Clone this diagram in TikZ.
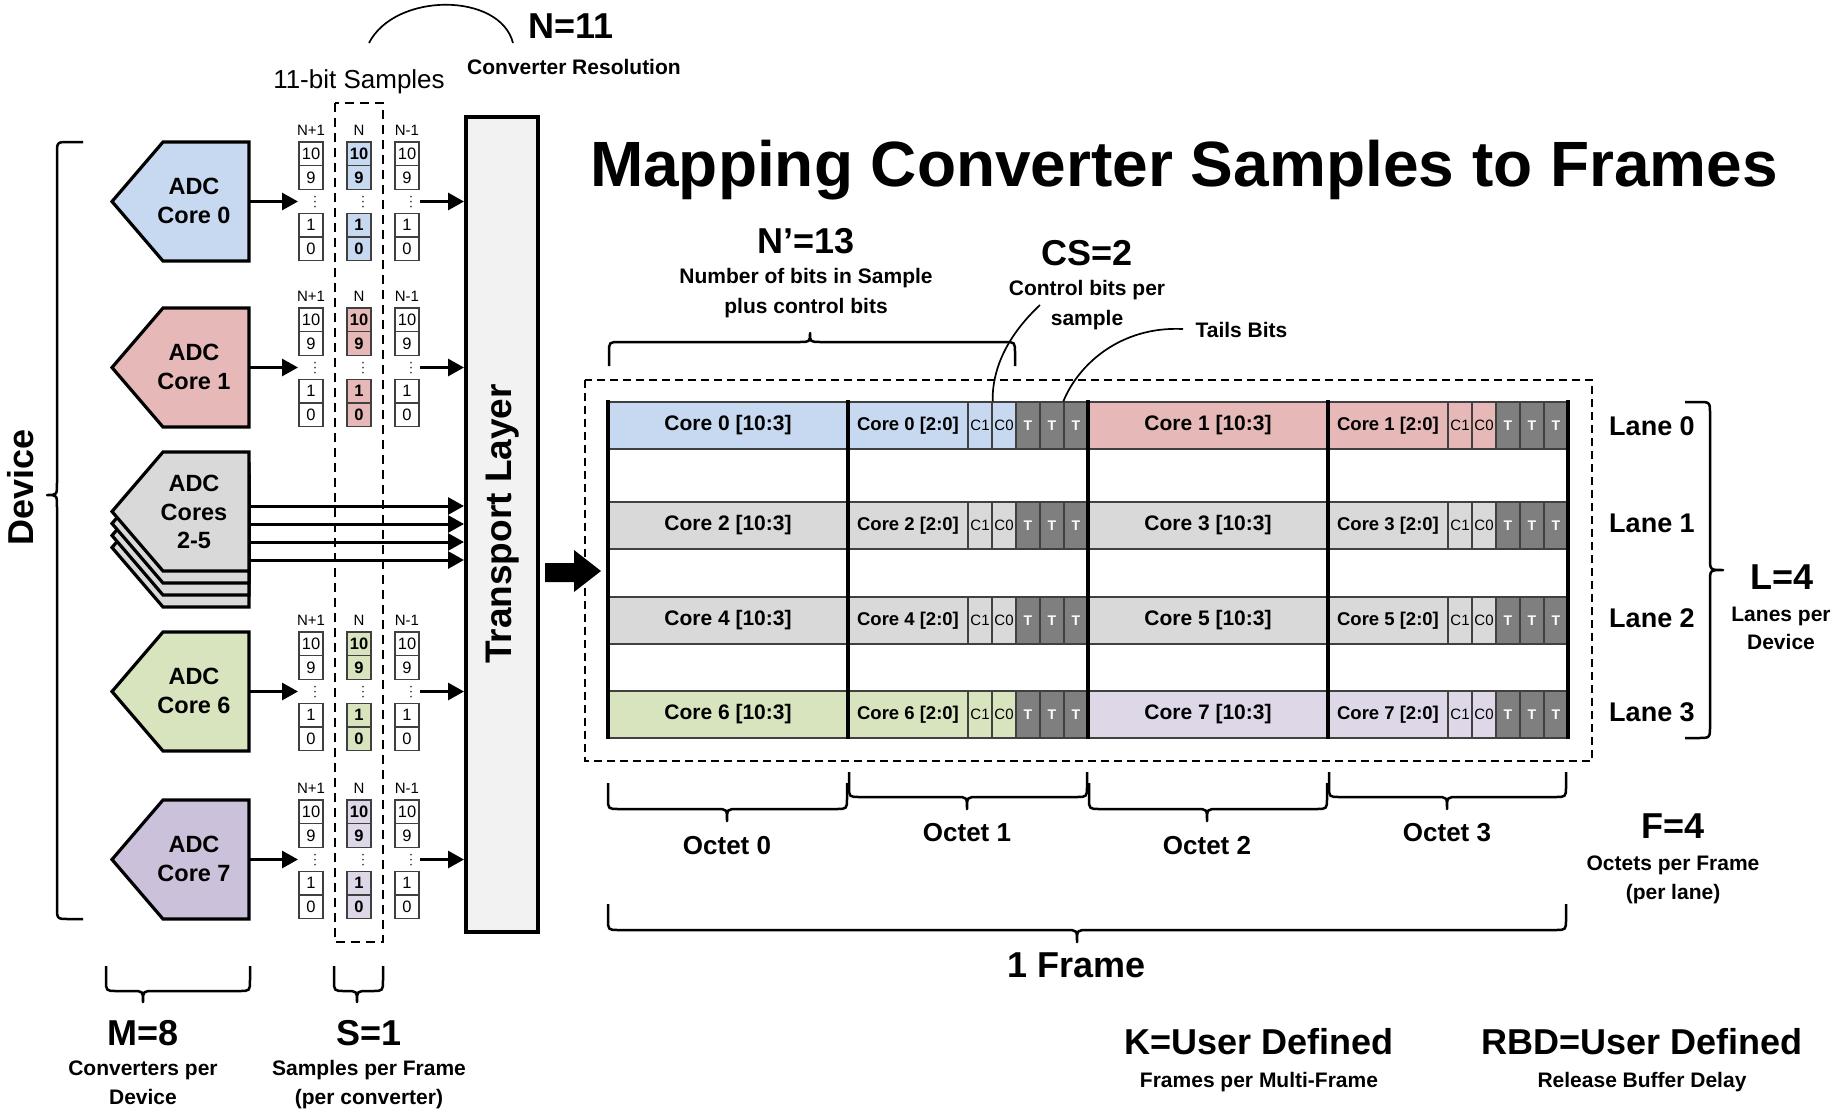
\documentclass[tikz,border=0pt]{standalone}
\usepackage{fontspec}
\setmainfont{Liberation Sans}
\usetikzlibrary{arrows.meta}
\definecolor{cblue}{HTML}{C6D9F1}
\definecolor{cred}{HTML}{E6B9B8}
\definecolor{cgray}{HTML}{D9D9D9}
\definecolor{cgreen}{HTML}{D7E4BD}
\definecolor{cpurp}{HTML}{CCC1DA}
\definecolor{cpurpl}{HTML}{DDD7E8}
\definecolor{tgray}{HTML}{7F7F7F}
\definecolor{tlfill}{HTML}{F2F2F2}
\definecolor{edgec}{HTML}{404040}
\newcommand\fsz[1]{\fontsize{#1pt}{#1pt}\selectfont}
\tikzset{
  txt/.style={inner sep=0pt, anchor=base},
  bigtxt/.style={txt, font=\fsz{36}\bfseries},
  smalltxt/.style={txt, font=\fsz{21}\bfseries},
  adcline/.style={draw, line width=3.2pt},
  adctxt/.style={txt, font=\fsz{23.5}\bfseries},
  bitbox/.style={draw=edgec, line width=1.2pt, minimum width=24pt, minimum height=23.7pt, inner sep=0pt},
  collab/.style={txt, font=\fsz{15}},
  arr/.style={line width=3pt, -{Triangle[length=16pt,width=17pt]}},
  bracestyle/.style={line width=2.5pt, line join=round},
  cell/.style={draw=edgec, line width=1.3pt, minimum height=47pt, inner sep=0pt},
  tcell/.style={cell, fill=tgray, text=white, minimum width=24pt, font=\fsz{14}\bfseries},
  ccell/.style={cell, minimum width=24pt, font=\fsz{15}},
  thin/.style={line width=1.7pt},
}
\newcommand\hbrace[6]{% x1 x2 xtip ylegs yline ytip
  \pgfmathsetmacro\bsgn{(#4>#5)?1:-1}
  \draw[bracestyle] (#1,#4) -- (#1,{#5+\bsgn*11}) .. controls (#1,#5) .. ({#1+11},#5)
    -- ({#3-11},#5) .. controls (#3,#5) .. (#3,#6) .. controls (#3,#5) .. ({#3+11},#5)
    -- ({#2-11},#5) .. controls (#2,#5) .. (#2,{#5+\bsgn*11}) -- (#2,#4);
}
\newcommand\vbrace[6]{% y1 y2 ytip xlegs xline xtip
  \pgfmathsetmacro\bsgn{(#4>#5)?1:-1}
  \draw[bracestyle] (#4,#1) -- ({#5+\bsgn*12},#1) .. controls (#5,#1) .. (#5,{#1+12})
    -- (#5,{#3-12}) .. controls (#5,#3) .. (#6,#3) .. controls (#5,#3) .. (#5,{#3+12})
    -- (#5,{#2-12}) .. controls (#5,#2) .. ({#5+\bsgn*12},#2) -- (#4,#2);
}
\newcommand\adcpent[3]{% top, fill, name of output point
  \draw[adcline, fill=#2] (163,#1) -- (249,#1) -- (249,{#1+119}) -- (163,{#1+119}) -- (112,{#1+59.5}) -- cycle;
  \coordinate (#3) at (249,{#1+59.5});
}
\newcommand\sgroup[3]{% top, fill of N column, id
  \foreach \cx/\lab/\fc/\ft/\k in {311/N+1/white/\mdseries/a,359/N/#2/\bfseries/b,407/N-1/white/\mdseries/c}{
    \node[collab] (#3\k l) at (\cx,{#1-7}) {\lab};
    \node[bitbox, fill=\fc, font=\fsz{16.5}\ft] (#3\k x10) at (\cx,{#1+11.9}) {10};
    \node[bitbox, fill=\fc, font=\fsz{16.5}\ft] (#3\k x9) at (\cx,{#1+35.6}) {9};
    \node[bitbox, fill=\fc, font=\fsz{16.5}\ft] (#3\k x1) at (\cx,{#1+83.1}) {1};
    \node[bitbox, fill=\fc, font=\fsz{16.5}\ft] (#3\k x0) at (\cx,{#1+106.9}) {0};
    \foreach \dy in {54.5,59.5,64.5} \fill[black!70] ({\cx+4},{#1+\dy}) circle (1pt);
  }
  \coordinate (#3in) at (298,{#1+59.5});
  \coordinate (#3src) at (420,{#1+59.5});
  \coordinate (#3dst) at (464,{#1+59.5});
}
\begin{document}
\begin{tikzpicture}[x=1pt,y=-1pt]
\path[use as bounding box, fill=white] (0,0) rectangle (1848,1109);

% title
\node[txt, font=\fsz{64}\bfseries] (title) at (1184,186) {Mapping Converter Samples to Frames};

% N=11
\node[bigtxt] (nres) at (571,38) {N=11};
\node[smalltxt] (nresl) at (574,74.5) {Converter Resolution};
\node[txt, font=\fsz{26}] (sampl) at (359,88) {11-bit Samples};
\draw[thin] (369,43) .. controls (395,-8) and (500,-8) .. (513,43);

% device brace
\vbrace{142}{919}{495}{83}{57}{47}
\node[txt, font=\fsz{36}\bfseries, rotate=90] (devl) at (33,487) {Device};

% transport layer
\node[draw, line width=3.5pt, fill=tlfill, minimum width=72pt, minimum height=815pt, inner sep=0pt] (tl) at (502,524.5) {};
\node[txt, font=\fsz{37}\bfseries, rotate=90] (tlt) at (511,524) {Transport Layer};

% dashed N column
\draw[line width=2.5pt, dash pattern=on 9pt off 6pt] (335,103) rectangle (383,942);

% ADC cores
\adcpent{142}{cblue}{c0}
\node[adctxt] (c0t1) at (194,194.4) {ADC};
\node[adctxt] (c0t2) at (194,223.4) {Core 0};
\sgroup{142}{cblue}{s0}
\draw[arr] (c0) -- (s0in);
\draw[arr] (s0src) -- (s0dst);

\adcpent{308}{cred}{c1}
\node[adctxt] (c1t1) at (194,360.4) {ADC};
\node[adctxt] (c1t2) at (194,389.4) {Core 1};
\sgroup{308}{cred}{s1}
\draw[arr] (c1) -- (s1in);
\draw[arr] (s1src) -- (s1dst);

\adcpent{488}{cgray}{c5}
\adcpent{476}{cgray}{c4}
\adcpent{464}{cgray}{c3}
\adcpent{452}{cgray}{c2}
\node[adctxt] (c2t1) at (194,491.4) {ADC};
\node[adctxt] (c2t2) at (194,520.4) {Cores};
\node[adctxt] (c2t3) at (194,548.4) {2-5};
\foreach \yy/\k in {506/a,524/b,542/c,560/d}{
  \coordinate (m\k) at (249,\yy);
  \coordinate (t\k) at (464,\yy);
  \draw[arr] (m\k) -- (t\k);
}

\adcpent{632}{cgreen}{c6}
\node[adctxt] (c6t1) at (194,684.4) {ADC};
\node[adctxt] (c6t2) at (194,713.4) {Core 6};
\sgroup{632}{cgreen}{s6}
\draw[arr] (c6) -- (s6in);
\draw[arr] (s6src) -- (s6dst);

\adcpent{800}{cpurp}{c7}
\node[adctxt] (c7t1) at (194,852.4) {ADC};
\node[adctxt] (c7t2) at (194,881.4) {Core 7};
\sgroup{800}{cpurpl}{s7}
\draw[arr] (c7) -- (s7in);
\draw[arr] (s7src) -- (s7dst);

% M and S
\hbrace{106}{250}{143}{966}{991}{1002}
\hbrace{334}{383}{357}{966}{991}{1002}
\node[bigtxt] (mlab) at (143,1045) {M=8};
\node[smalltxt] (mlab1) at (143,1075.5) {Converters per};
\node[smalltxt] (mlab2) at (143,1104.5) {Device};
\node[bigtxt] (slab) at (369,1045) {S=1};
\node[smalltxt] (slab1) at (369,1075.5) {Samples per Frame};
\node[smalltxt] (slab2) at (369,1104.5) {(per converter)};

% big arrow
\fill (545,563) -- (574,563) -- (574,550) -- (601,571) -- (574,592) -- (574,582) -- (545,582) -- cycle;

% frame
\draw[line width=2.2pt, dash pattern=on 8pt off 5pt] (585,380) rectangle (1592,761);
\foreach \yc/\ca/\na/\cb/\nb/\ln/\lb in {425.5/cblue/0/cred/1/0/435, 525.5/cgray/2/cgray/3/1/532, 620.5/cgray/4/cgray/5/2/627, 714.5/cgreen/6/cpurpl/7/3/721}{
  \node[cell, fill=\ca, minimum width=240pt, font=\fsz{21}\bfseries] (L\ln-o0) at (728,\yc) {Core \na{} [10:3]};
  \node[cell, fill=\ca, minimum width=120pt, font=\fsz{18.5}\bfseries] (L\ln-o1) at (908,\yc) {Core \na{} [2:0]};
  \node[ccell, fill=\ca] (L\ln-c1a) at (980,\yc) {C1};
  \node[ccell, fill=\ca] (L\ln-c0a) at (1004,\yc) {C0};
  \node[tcell] (L\ln-ta1) at (1028,\yc) {T};
  \node[tcell] (L\ln-ta2) at (1052,\yc) {T};
  \node[tcell] (L\ln-ta3) at (1076,\yc) {T};
  \node[cell, fill=\cb, minimum width=240pt, font=\fsz{21}\bfseries] (L\ln-o2) at (1208,\yc) {Core \nb{} [10:3]};
  \node[cell, fill=\cb, minimum width=120pt, font=\fsz{18.5}\bfseries] (L\ln-o3) at (1388,\yc) {Core \nb{} [2:0]};
  \node[ccell, fill=\cb] (L\ln-c1b) at (1460,\yc) {C1};
  \node[ccell, fill=\cb] (L\ln-c0b) at (1484,\yc) {C0};
  \node[tcell] (L\ln-tb1) at (1508,\yc) {T};
  \node[tcell] (L\ln-tb2) at (1532,\yc) {T};
  \node[tcell] (L\ln-tb3) at (1556,\yc) {T};
  \node[txt, font=\fsz{27}\bfseries] (lane\ln) at (1652,\lb) {Lane \ln};
}
\foreach \x in {608,848,1088,1328,1568} \draw[line width=4pt] (\x,400) -- (\x,739);

% lanes brace
\vbrace{402}{738}{570}{1685}{1710}{1723}
\node[bigtxt] (llab) at (1782,589) {L=4};
\node[smalltxt] (llab1) at (1781,621) {Lanes per};
\node[smalltxt] (llab2) at (1781,649) {Device};

% N' and CS
\hbrace{609}{1015}{810}{366}{342}{333}
\node[bigtxt] (nplab) at (806,253) {N’=13};
\node[smalltxt] (nplab1) at (806,283) {Number of bits in Sample};
\node[smalltxt] (nplab2) at (806,313) {plus control bits};
\node[bigtxt] (cslab) at (1087,265) {CS=2};
\node[smalltxt] (cslab1) at (1087,295) {Control bits per};
\node[smalltxt] (cslab2) at (1087,325) {sample};
\node[smalltxt] (tailab) at (1241.5,337) {Tails Bits};
\coordinate (csfrom) at (1040,305);
\coordinate (tailfrom) at (1183,329);
\draw[thin] (csfrom) .. controls (1008,335) and (992,368) .. (L0-c1a.north east);
\draw[thin] (tailfrom) .. controls (1120,326) and (1078,365) .. (L0-ta3.north west);

% octets
\hbrace{608}{847}{727}{783}{809}{821}
\hbrace{849}{1087}{967}{772}{797}{809}
\hbrace{1089}{1327}{1207}{783}{809}{821}
\hbrace{1329}{1566}{1447}{772}{797}{809}
\node[txt, font=\fsz{26}\bfseries] (oc0) at (727,854) {Octet 0};
\node[txt, font=\fsz{26}\bfseries] (oc1) at (967,841) {Octet 1};
\node[txt, font=\fsz{26}\bfseries] (oc2) at (1207,854) {Octet 2};
\node[txt, font=\fsz{26}\bfseries] (oc3) at (1447,841) {Octet 3};
\node[bigtxt] (flab) at (1673,838) {F=4};
\node[smalltxt] (flab1) at (1673,870.5) {Octets per Frame};
\node[smalltxt] (flab2) at (1673,899.5) {(per lane)};

\hbrace{608}{1566}{1077}{904}{930}{942}
\node[bigtxt] (frlab) at (1077,977) {1 Frame};

\node[bigtxt] (klab) at (1259,1054) {K=User Defined};
\node[smalltxt] (klab1) at (1259,1087.5) {Frames per Multi-Frame};
\node[bigtxt] (rlab) at (1642,1054) {RBD=User Defined};
\node[smalltxt] (rlab1) at (1642,1087.5) {Release Buffer Delay};
\end{tikzpicture}
\end{document}
